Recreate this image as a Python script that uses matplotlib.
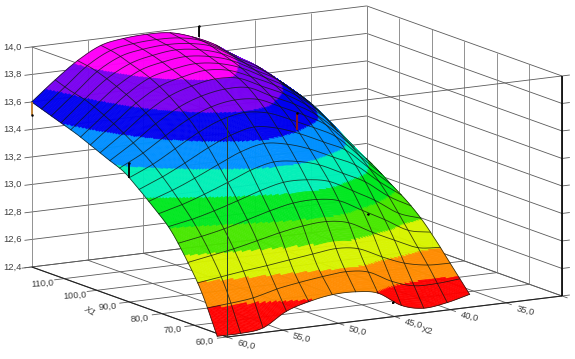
import numpy as np
import matplotlib
matplotlib.use('Agg')
import matplotlib.pyplot as plt
from matplotlib.colors import to_rgba
from mpl_toolkits.mplot3d import proj3d

plt.rcParams['font.family'] = ['Liberation Sans', 'DejaVu Sans']

# surface heights
x1_mesh = [63.0, 67.8, 72.5, 77.3, 82.0, 86.8, 91.5, 96.3, 101.0, 105.8, 110.5, 115.3, 120.0]
x2_mesh = [60.0, 57.9, 55.9, 53.8, 51.8, 49.7, 47.6, 45.6, 43.5, 41.5, 39.4, 37.4]
# one row per x2_mesh value, one column per x1_mesh value
z_mesh = [
    [12.38, 12.66, 12.86, 13.03, 13.14, 13.24, 13.33, 13.38, 13.43, 13.48, 13.52, 13.56, 13.60],
    [12.38, 12.68, 12.89, 13.06, 13.19, 13.31, 13.41, 13.49, 13.56, 13.62, 13.67, 13.70, 13.74],
    [12.40, 12.70, 12.92, 13.10, 13.25, 13.39, 13.51, 13.61, 13.69, 13.75, 13.80, 13.84, 13.86],
    [12.50, 12.72, 12.96, 13.15, 13.32, 13.48, 13.61, 13.71, 13.79, 13.85, 13.89, 13.93, 13.95],
    [12.55, 12.74, 13.00, 13.20, 13.39, 13.55, 13.68, 13.77, 13.84, 13.89, 13.93, 13.96, 13.98],
    [12.58, 12.76, 13.03, 13.24, 13.43, 13.59, 13.71, 13.80, 13.87, 13.91, 13.95, 13.97, 13.99],
    [12.58, 12.78, 13.04, 13.24, 13.41, 13.56, 13.69, 13.79, 13.85, 13.89, 13.93, 13.96, 13.98],
    [12.55, 12.76, 13.01, 13.21, 13.36, 13.50, 13.62, 13.71, 13.78, 13.84, 13.88, 13.92, 13.93],
    [12.44, 12.68, 12.92, 13.12, 13.28, 13.42, 13.54, 13.63, 13.70, 13.75, 13.79, 13.82, 13.85],
    [12.40, 12.62, 12.84, 13.03, 13.20, 13.34, 13.45, 13.53, 13.60, 13.66, 13.70, 13.73, 13.73],
    [12.42, 12.60, 12.76, 12.92, 13.07, 13.19, 13.29, 13.38, 13.46, 13.52, 13.56, 13.60, 13.62],
    [12.46, 12.60, 12.74, 12.87, 12.97, 13.05, 13.13, 13.20, 13.26, 13.34, 13.42, 13.47, 13.50],
]
# where the black mesh lines run across x1
x1_lines = [63, 66, 69, 72, 75, 78, 81, 84, 87, 90, 93, 96, 99, 102, 105, 108, 111, 114, 117, 120]

# measured points with their drop lines to the surface
pt_x1 = [120.0, 90.2, 120.0, 100.0, 75.0, 63.0]
pt_x2 = [60.0, 60.0, 45.0, 42.1, 43.0, 44.3]
pt_top = [13.60, 13.41, 14.00, 13.51, 13.00, 12.47]
pt_low = [13.505, 13.30, 13.92, 13.39, 12.99, 12.46]
pt_col = ['#c08030', 'black', 'black', '#901818', 'black', 'black']

levels = [12.56, 12.72, 12.88, 13.04, 13.20, 13.36, 13.52, 13.68, 13.84]
band_colors = ['#ff0000', '#ff8c00', '#d8f400', '#48e800', '#00e820',
               '#00f0b8', '#0090ff', '#0000f0', '#7a00f0', '#ff00f8']

x1_ticks = [60, 70, 80, 90, 100, 110, 120]
x2_ticks = [60, 55, 50, 45, 40, 35, 30]
z_ticks = [12.4, 12.6, 12.8, 13.0, 13.2, 13.4, 13.6, 13.8, 14.0]

ELEV = 12.1
AZIM = -120.3
aspect = (388, 387, 225)


def cubic(v, t):
    # Catmull-Rom along axis 0, t in mesh index units
    p = np.concatenate([[2 * v[0] - v[1]], v, [2 * v[-1] - v[-2]]])
    i = np.clip(np.floor(t).astype(int), 0, len(v) - 2)
    s = (t - i).reshape((-1,) + (1,) * (v.ndim - 1))
    a, b, c, d = p[i], p[i + 1], p[i + 2], p[i + 3]
    return 0.5 * (2 * b + (c - a) * s + (2 * a - 5 * b + 4 * c - d) * s ** 2
                  + (3 * b - a - 3 * c + d) * s ** 3)


fig = plt.figure(figsize=(5.75, 3.59), dpi=100)
ax = fig.add_axes([-0.5, -1.0, 2.0, 3.0], projection='3d', proj_type='ortho', computed_zorder=False)
ax.view_init(elev=ELEV, azim=AZIM)
ax.set_box_aspect(aspect)
ax.set_xlim(60, 30, view_margin=0)
ax.set_ylim(60, 120, view_margin=0)
ax.set_zlim(12.4, 14.0, view_margin=0)
ax.set_axis_off()
ax.patch.set_alpha(0)


def pix(x, y, z):
    px, py, _ = proj3d.proj_transform(x, y, z, ax.get_proj())
    return ax.transData.transform((px, py))


# scale and shift the axes so the box sits where it does in the picture
fig.canvas.draw()
a = pix(60, 60, 12.4)
b = pix(30, 60, 12.4)
ax.set_box_aspect(aspect, zoom=np.hypot(335, 41) / np.hypot(*(b - a)))
fig.canvas.draw()
a = pix(60, 60, 12.4)
pos = ax.get_position(original=True)
ax.set_position([pos.x0 + (227 - a[0]) / 575, pos.y0 + (22 - a[1]) / 359, pos.width, pos.height])
fig.canvas.draw()

# box and grid
GRID = '#5a5a5a'
VERT = '#808080'


def seg(xs, ys, zs, color=GRID, lw=0.6, zorder=1):
    ax.plot(xs, ys, zs, color=color, lw=lw, zorder=zorder, solid_capstyle='butt')


for z in z_ticks:
    seg([60.65, 60, 30], [120, 120, 120], [z, z, z])
    seg([30, 30, 29.3], [120, 60, 60], [z, z, z])
for v in x2_ticks:
    seg([v, v], [120, 120], [12.4, 14.0], VERT)
    seg([v, v], [120, 60], [12.4, 12.4])
    seg([v, v], [60, 58.3], [12.4, 12.4])
for v in x1_ticks:
    seg([30, 30], [v, v], [12.4, 14.0], VERT)
    seg([30, 60], [v, v], [12.4, 12.4])
    seg([60, 60.9], [v, v], [12.4, 12.4])
seg([60, 30], [60, 60], [14.0, 14.0])
seg([60, 60], [60, 120], [14.0, 14.0])
seg([60, 60], [60, 120], [12.4, 12.4], '#222222', 0.8)
seg([60, 30], [60, 60], [12.4, 12.4], '#222222', 0.8)
seg([30, 30], [60, 60], [12.4, 14.0], 'black', 1.2)

# surface on a fine sampling of the table
c1 = np.arange(63.0, 120.01, 0.25)
t2 = np.linspace(0, len(x2_mesh) - 1, 20 * (len(x2_mesh) - 1) + 1)
c2 = np.interp(t2, np.arange(len(x2_mesh)), x2_mesh)
t1 = np.interp(c1, x1_mesh, np.arange(len(x1_mesh)))
Z = cubic(np.array(z_mesh), t2)
Z = cubic(Z.T, t1).T
X1, X2 = np.meshgrid(c1, c2)
mid = (Z[:-1, :-1] + Z[1:, :-1] + Z[:-1, 1:] + Z[1:, 1:]) / 4
rgba = np.array([to_rgba(c) for c in band_colors])
faces = rgba[np.searchsorted(levels, mid)]
ax.plot_surface(X2, X1, Z, facecolors=faces, rstride=1, cstride=1, shade=False,
                linewidth=0.3, antialiased=True, zorder=2)

# mesh lines, leaving out what faces away from the viewer
bx = (60 - c2) / 30 * aspect[0]
by = (c1 - 60) / 60 * aspect[1]
bz = (Z - 12.4) / 1.6 * aspect[2]
dz_dx = np.gradient(bz, bx, axis=0)
dz_dy = np.gradient(bz, by, axis=1)
el, az = np.radians(ELEV), np.radians(AZIM)
facing = -dz_dx * np.cos(el) * np.cos(az) - dz_dy * np.cos(el) * np.sin(az) + np.sin(el) > 0
Zv = np.where(facing, Z, np.nan)

for v in x1_lines:
    j = int(round((v - 63.0) / 0.25))
    ax.plot(c2, np.full(c2.shape, float(v)), Zv[:, j], color='#101810', lw=0.6, alpha=0.8, zorder=3)
for i in range(len(x2_mesh)):
    k = 20 * i
    ax.plot(np.full(c1.shape, x2_mesh[i]), c1, Zv[k, :], color='#101810', lw=0.6, alpha=0.8, zorder=3)

# front edge runs over the surface
seg([60, 60], [60, 60], [12.4, 14.0], '#2a3a2a', 0.7, zorder=3)

for v1, v2, top, low, col in zip(pt_x1, pt_x2, pt_top, pt_low, pt_col):
    seg([v2, v2], [v1, v1], [low, top], col, 1.3, zorder=4)
    dot_z = low if v1 == 120.0 and v2 == 60.0 else top
    ax.plot([v2], [v1], [dot_z], 'o', color='black', ms=1.8, mew=0, zorder=5)

# labels go on the figure at the projected position
TXT = '#404040'


def label(x, y, z, s, **kw):
    p = pix(x, y, z)
    fig.text(p[0] / 575, p[1] / 359, s, color=TXT, fontsize=6.8, ha='center', va='center', **kw)


for z in z_ticks:
    label(61.7, 120, z + 0.015, f'{z:.1f}'.replace('.', ','))
for v in x1_ticks[:-1]:
    label(62.0, v, 12.385, f'{v:.1f}'.replace('.', ','), rotation=4)
for v in x2_ticks[:-1]:
    label(v, 54.2, 12.395, f'{v:.1f}'.replace('.', ','), rotation=-14)
label(64.3, 87.4, 12.4, 'X1', style='italic', rotation=-30)
label(45.5, 48.2, 12.4, 'X2', rotation=-12)

fig.savefig('out.png', dpi=100)
